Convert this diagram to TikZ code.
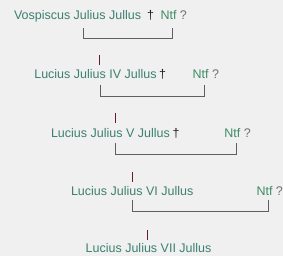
\documentclass[tikz,border=0pt]{standalone}
\usepackage{fontspec}
\setmainfont{Liberation Sans}
\definecolor{bg}{HTML}{F0F0F0}
\definecolor{nametxt}{HTML}{3B8070}
\definecolor{ntftxt}{HTML}{3F8C68}
\definecolor{qtxt}{HTML}{707070}
\definecolor{dagtxt}{HTML}{222222}
\definecolor{barc}{HTML}{6B1A2A}
\definecolor{linec}{HTML}{606060}
\begin{document}
\begin{tikzpicture}[x=1pt,y=-1pt,
  txtbase/.style={anchor=base west,inner sep=0pt,outer sep=0pt,font=\fontsize{12.5}{14}\selectfont},
  personname/.style={txtbase,text=nametxt},
  dagsym/.style={txtbase,text=dagtxt},
  spousetxt/.style={txtbase},
  tickbar/.style={draw=barc,line width=0.8pt},
  bracketline/.style={draw=linec,line width=0.8pt}]
\fill[bg] (0,0) rectangle (283,256);
\useasboundingbox (0,0) rectangle (283,256);
% row 1
\node[personname] (n1) at (14,20) {Vospiscus Julius Jullus};
\node[dagsym] (d1) at (147,20) {†};
\node[spousetxt] (s1) at (160.5,20) {\textcolor{ntftxt}{Ntf} \textcolor{qtxt}{?}};
\coordinate (b1l) at (83.5,28);
\coordinate (b1r) at (172.5,28);
\draw[bracketline] (b1l) -- ++(0,10.3) -| (b1r);
% row 2
\coordinate (t2) at (99.5,55);
\draw[tickbar] (t2) -- ++(0,10);
\node[personname] (n2) at (34.3,79) {Lucius Julius IV Jullus};
\node[dagsym] (d2) at (159,79) {†};
\node[spousetxt] (s2) at (192.7,79) {\textcolor{ntftxt}{Ntf} \textcolor{qtxt}{?}};
\coordinate (b2l) at (100,85);
\coordinate (b2r) at (204.5,85);
\draw[bracketline] (b2l) -- ++(0,11) -| (b2r);
% row 3
\coordinate (t3) at (115.7,113);
\draw[tickbar] (t3) -- ++(0,10);
\node[personname] (n3) at (51,137.5) {Lucius Julius V Jullus};
\node[dagsym] (d3) at (172.7,137.5) {†};
\node[spousetxt] (s3) at (224.3,137.5) {\textcolor{ntftxt}{Ntf} \textcolor{qtxt}{?}};
\coordinate (b3l) at (115.7,143);
\coordinate (b3r) at (236.7,143);
\draw[bracketline] (b3l) -- ++(0,11) -| (b3r);
% row 4
\coordinate (t4) at (132,172);
\draw[tickbar] (t4) -- ++(0,10);
\node[personname] (n4) at (71,195) {Lucius Julius VI Jullus};
\node[spousetxt] (s4) at (256.5,195) {\textcolor{ntftxt}{Ntf} \textcolor{qtxt}{?}};
\coordinate (b4l) at (132,200);
\coordinate (b4r) at (268.7,200);
\draw[bracketline] (b4l) -- ++(0,11) -| (b4r);
% row 5
\coordinate (t5) at (147.7,230);
\draw[tickbar] (t5) -- ++(0,10);
\node[personname] (n5) at (85.7,252) {Lucius Julius VII Jullus};
\end{tikzpicture}
\end{document}
